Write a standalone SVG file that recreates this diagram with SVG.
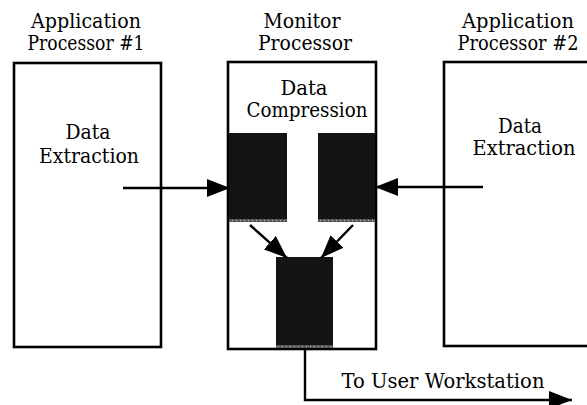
<svg xmlns="http://www.w3.org/2000/svg" width="587" height="405" viewBox="0 0 587 405">
  <defs>
    <style>
      .box { fill: #fff; stroke: #000; stroke-width: 2.6; }
      .lbl { font-family: "DejaVu Serif", "Liberation Serif", serif; font-size: 20px; fill: #000; text-anchor: middle; }
      .wire { fill: none; stroke: #000; stroke-width: 2.4; }
      .buf { fill: #141414; }
      .edge { fill: url(#dither); }
    </style>
    <pattern id="dither" width="4" height="4" patternUnits="userSpaceOnUse">
      <rect width="4" height="4" fill="#555"/>
      <rect x="0" y="0" width="1" height="1" fill="#ccc"/>
      <rect x="2" y="2" width="1" height="1" fill="#bbb"/>
    </pattern>
    <marker id="head" markerUnits="userSpaceOnUse" markerWidth="24" markerHeight="18" refX="23" refY="9" orient="auto">
      <path d="M0,0 L23,9 L0,18 Z" fill="#000"/>
    </marker>
  </defs>

  <!-- Application Processor #1 -->
  <g id="app1">
    <text class="lbl" x="86" y="28" textLength="110" lengthAdjust="spacingAndGlyphs">Application</text>
    <text class="lbl" x="86" y="50" textLength="117" lengthAdjust="spacingAndGlyphs">Processor #1</text>
    <rect class="box" x="14" y="63" width="147" height="284"/>
    <text class="lbl" x="88" y="139" textLength="45" lengthAdjust="spacingAndGlyphs">Data</text>
    <text class="lbl" x="89" y="163" textLength="100" lengthAdjust="spacingAndGlyphs">Extraction</text>
  </g>

  <!-- Monitor Processor with its compression buffers -->
  <g id="monitor">
    <text class="lbl" x="302" y="28" textLength="77" lengthAdjust="spacingAndGlyphs">Monitor</text>
    <text class="lbl" x="305" y="50" textLength="94" lengthAdjust="spacingAndGlyphs">Processor</text>
    <rect class="box" x="228" y="62" width="148" height="287"/>
    <text class="lbl" x="304" y="95" textLength="47" lengthAdjust="spacingAndGlyphs">Data</text>
    <text class="lbl" x="307" y="117" textLength="121" lengthAdjust="spacingAndGlyphs">Compression</text>
  </g>
  <g id="buffer-left">
    <rect class="buf" x="229" y="133" width="58" height="89"/>
    <rect class="edge" x="229" y="219" width="58" height="3"/>
  </g>
  <g id="buffer-right">
    <rect class="buf" x="318" y="133" width="57" height="89"/>
    <rect class="edge" x="318" y="219" width="57" height="3"/>
  </g>
  <g id="buffer-merge">
    <rect class="buf" x="276" y="257" width="57" height="91"/>
    <rect class="edge" x="276" y="345" width="57" height="3"/>
  </g>

  <!-- Application Processor #2 -->
  <g id="app2">
    <text class="lbl" x="518" y="28" textLength="112" lengthAdjust="spacingAndGlyphs">Application</text>
    <text class="lbl" x="518" y="50" textLength="121" lengthAdjust="spacingAndGlyphs">Processor #2</text>
    <rect class="box" x="444" y="62" width="160" height="284"/>
    <text class="lbl" x="520" y="133" textLength="44" lengthAdjust="spacingAndGlyphs">Data</text>
    <text class="lbl" x="524" y="155" textLength="103" lengthAdjust="spacingAndGlyphs">Extraction</text>
  </g>

  <!-- Data flow -->
  <g id="connectors">
    <line class="wire" x1="123" y1="188" x2="230" y2="188" marker-end="url(#head)"/>
    <line class="wire" x1="483" y1="187" x2="375" y2="187" marker-end="url(#head)"/>
    <line class="wire" x1="250" y1="225" x2="287" y2="258" marker-end="url(#head)"/>
    <line class="wire" x1="353" y1="225" x2="321" y2="258" marker-end="url(#head)"/>
    <polyline class="wire" points="305,348 305,400 572,400" marker-end="url(#head)"/>
    <text class="lbl" x="443" y="388" textLength="203" lengthAdjust="spacingAndGlyphs">To User Workstation</text>
  </g>
</svg>
